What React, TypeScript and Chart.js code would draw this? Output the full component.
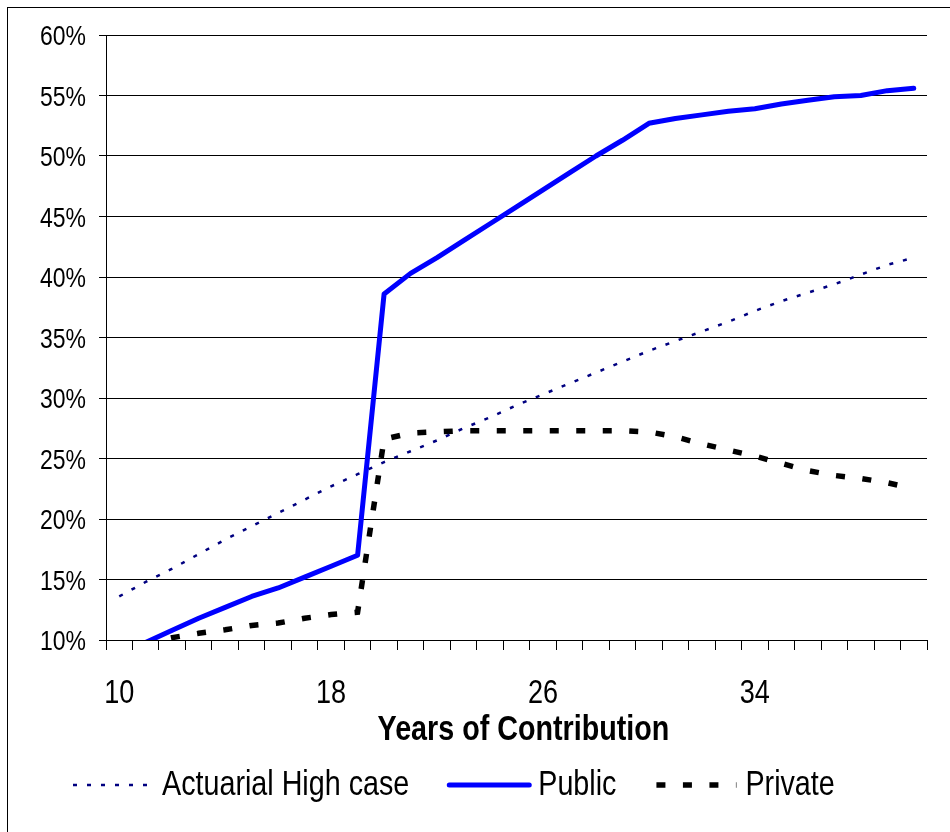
import React, { useEffect, useRef } from 'react';
import { Chart, registerables } from 'chart.js';

Chart.register(...registerables);

const years = ['10', '11', '12', '13', '14', '15', '16', '17', '18', '19', '20', '21', '22', '23', '24', '25', '26', '27', '28', '29', '30', '31', '32', '33', '34', '35', '36', '37', '38', '39', '40'];

const actuarialHigh = [13.6, 14.8, 15.9, 17.1, 18.3, 19.4, 20.5, 21.6, 22.7, 23.7, 24.7, 25.6, 26.5, 27.5, 28.4, 29.4, 30.3, 31.2, 32.1, 33.0, 33.9, 34.7, 35.5, 36.3, 37.2, 38.0, 38.7, 39.4, 40.2, 41.0, 41.6];

const publicRate = [9.0, 9.8, 10.8, 11.8, 12.7, 13.6, 14.3, 15.2, 16.1, 17.0, 38.6, 40.3, 41.6, 43.0, 44.4, 45.8, 47.2, 48.6, 50.0, 51.3, 52.7, 53.1, 53.4, 53.7, 53.9, 54.3, 54.6, 54.9, 55.0, 55.4, 55.6];

const privateRate = [9.2, 9.7, 10.2, 10.55, 10.85, 11.2, 11.4, 11.8, 12.1, 12.3, 26.6, 27.1, 27.2, 27.3, 27.3, 27.3, 27.3, 27.3, 27.3, 27.3, 27.2, 26.8, 26.2, 25.7, 25.2, 24.6, 24.0, 23.6, 23.35, 23.0, 22.5];

const seriesNames = ['Actuarial High case', 'Public', 'Private'];
const yMin = 10;
const yMax = 60;
const yStep = 5;
const labelEvery = 8;
const axisTitle = 'Years of Contribution';

const FONT = '"Liberation Sans", Arial, sans-serif';
const NARROW = 0.82;

function narrowText(ctx: any, text: string, x: number, y: number, align: string, font: string) {
  ctx.save();
  ctx.font = font;
  ctx.textBaseline = 'alphabetic';
  ctx.textAlign = align;
  ctx.translate(x, y);
  ctx.scale(NARROW, 1);
  ctx.fillStyle = '#000';
  ctx.fillText(text, 0, 0);
  ctx.restore();
}

const textPlugin = {
  id: 'narrowLabels',
  afterDraw(chart: any) {
    const ctx = chart.ctx;
    const xs = chart.scales.x;
    const ys = chart.scales.y;
    const area = chart.chartArea;

    // y tick labels
    ys.ticks.forEach((t: any) => {
      const py = ys.getPixelForValue(t.value);
      narrowText(ctx, `${t.value}%`, area.left - 20, py + 10, 'right', `28px ${FONT}`);
    });

    // x tick labels
    years.forEach((lab, i) => {
      if (i % labelEvery !== 0) return;
      const px = xs.getPixelForValue(i);
      narrowText(ctx, lab, px, area.bottom + 63, 'center', `33px ${FONT}`);
    });

    // axis title
    narrowText(ctx, axisTitle, (area.left + area.right) / 2 + 7, area.bottom + 100, 'center', `bold 35px ${FONT}`);

    // legend
    let x = 73;
    const lineY = 785;
    chart.data.datasets.forEach((ds: any) => {
      ctx.save();
      ctx.strokeStyle = ds.borderColor;
      ctx.lineWidth = ds.borderWidth;
      ctx.setLineDash(ds.borderDash || []);
      ctx.lineCap = ds.borderCapStyle || 'butt';
      ctx.beginPath();
      ctx.moveTo(x, lineY);
      ctx.lineTo(x + 80, lineY);
      ctx.stroke();
      ctx.restore();
      x += 89;
      narrowText(ctx, ds.label, x, 795, 'left', `35px ${FONT}`);
      ctx.save();
      ctx.font = `35px ${FONT}`;
      x += ctx.measureText(ds.label).width * NARROW + 40;
      ctx.restore();
    });
  },
};

export default function App() {
  const ref = useRef<HTMLCanvasElement | null>(null);

  useEffect(() => {
    if (!ref.current) return;
    const chart = new Chart(ref.current, {
      type: 'line',
      data: {
        labels: years,
        datasets: [
          {
            label: seriesNames[0],
            data: actuarialHigh,
            borderColor: '#000080',
            borderWidth: 2.5,
            borderDash: [4, 10],
            pointRadius: 0,
            tension: 0,
            clip: 0,
          },
          {
            label: seriesNames[1],
            data: publicRate,
            borderColor: '#0000FF',
            borderWidth: 5,
            borderCapStyle: 'round',
            borderJoinStyle: 'round',
            pointRadius: 0,
            tension: 0,
            clip: 0,
          },
          {
            label: seriesNames[2],
            data: privateRate,
            borderColor: '#000000',
            borderWidth: 5.5,
            borderDash: [9, 17.5],
            pointRadius: 0,
            tension: 0,
            clip: 0,
          },
        ],
      },
      options: {
        animation: false,
        responsive: false,
        maintainAspectRatio: false,
        devicePixelRatio: 1,
        layout: { padding: { left: 0, right: 23, top: 35, bottom: 0 } },
        plugins: { legend: { display: false }, tooltip: { enabled: false } },
        scales: {
          x: {
            type: 'category',
            offset: true,
            grid: { offset: true, drawOnChartArea: false, tickLength: 10, color: '#000', lineWidth: 1 },
            border: { color: '#000', width: 1 },
            ticks: { display: false, autoSkip: false, maxRotation: 0 },
            afterFit: (s: any) => {
              s.height = 192;
            },
          },
          y: {
            min: yMin,
            max: yMax,
            ticks: { display: false, stepSize: yStep },
            grid: { color: '#000', tickLength: 7, lineWidth: 1 },
            border: { color: '#000', width: 1 },
            afterFit: (s: any) => {
              s.width = 106;
            },
          },
        },
      },
      plugins: [textPlugin],
    });
    return () => chart.destroy();
  }, []);

  return (
    <div style={{ position: 'absolute', left: 0, top: 0, width: 950, height: 832, overflow: 'hidden', background: '#fff' }}>
      <canvas ref={ref} width={950} height={832} style={{ position: 'absolute', left: 0, top: 0, width: 950, height: 832 }} />
      <div style={{ position: 'absolute', left: 7, top: 7, width: 2000, height: 2000, border: '1px solid #000' }} />
    </div>
  );
}
